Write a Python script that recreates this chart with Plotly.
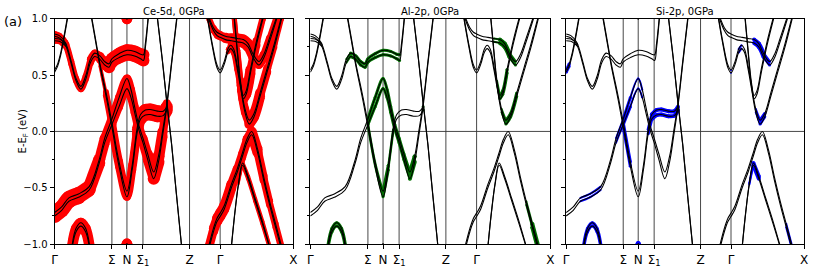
import plotly.graph_objects as go

W, H = 814, 268

# ---------------- axes / labels ----------------
kpath_pos = [0.0, 0.24, 0.303, 0.37, 0.565, 0.693, 1.0]
kpath_lbl = ["Γ", "Σ", "N", "Σ<sub>1</sub>", "Z", "Γ", "X"]
e_ticks = [-1.0, -0.5, 0.0, 0.5, 1.0]
e_tick_lbl = ["−1.0", "−0.5", "0.0", "0.5", "1.0"]
e_minor = [-0.75, -0.25, 0.25, 0.75]

panel_titles = ["Ce-5d, 0GPa", "Al-2p, 0GPa", "Si-2p, 0GPa"]
panel_keys = ["ce", "al", "si"]
panel_colors = ["#ff0000", "#006e00", "#0000ff"]

# ---------------- bands (k, E upper, E lower) ----------------
k_b1 = [0.0, 0.013, 0.026, 0.04, 0.055]
e_b1_a = [0.545, 0.60, 0.70, 0.85, 1.03]
e_b1_b = [0.525, 0.58, 0.68, 0.83, 1.01]

k_c = [0.0, 0.02, 0.045, 0.07, 0.09, 0.11, 0.13, 0.15, 0.168, 0.19, 0.21, 0.228, 0.24, 0.27, 0.303, 0.335, 0.36, 0.372, 0.38, 0.392]
e_c_a = [0.865, 0.85, 0.79, 0.62, 0.47, 0.40, 0.49, 0.64, 0.695, 0.67, 0.62, 0.60, 0.645, 0.69, 0.72, 0.71, 0.685, 0.68, 0.78, 1.02]
e_c_b = [0.845, 0.83, 0.77, 0.60, 0.45, 0.375, 0.46, 0.61, 0.665, 0.64, 0.59, 0.57, 0.615, 0.655, 0.68, 0.67, 0.645, 0.63, 0.74, 1.0]

k_b3 = [0.0, 0.02, 0.035, 0.05]
e_b3_a = [0.825, 0.82, 0.80, 0.77]
e_b3_b = [0.805, 0.80, 0.78, 0.75]

k_p = [0.0, 0.03, 0.06, 0.1, 0.145, 0.187, 0.21, 0.24, 0.27, 0.303, 0.32, 0.335, 0.352, 0.37, 0.39, 0.415, 0.435, 0.452, 0.47, 0.49, 0.512]
e_p_a = [-0.72, -0.67, -0.59, -0.555, -0.49, -0.25, -0.06, 0.11, 0.30, 0.47, 0.37, 0.22, 0.06, -0.06, -0.20, -0.36, -0.22, 0.0, 0.25, 0.62, 1.02]
e_p_b = [-0.75, -0.70, -0.62, -0.585, -0.52, -0.28, -0.10, 0.06, 0.22, 0.38, 0.30, 0.17, 0.02, -0.10, -0.25, -0.42, -0.27, -0.04, 0.22, 0.60, 1.0]

k_r = [0.155, 0.17, 0.19, 0.215, 0.24, 0.27, 0.303, 0.325, 0.345, 0.36, 0.38, 0.40, 0.43, 0.455, 0.47]
e_r_a = [1.02, 0.84, 0.60, 0.35, 0.08, -0.27, -0.53, -0.30, 0.02, 0.15, 0.19, 0.195, 0.18, 0.18, 0.22]
e_r_b = [1.0, 0.82, 0.58, 0.32, 0.04, -0.31, -0.58, -0.34, -0.02, 0.11, 0.145, 0.15, 0.135, 0.14, 0.19]

k_l1 = [0.43, 0.45, 0.468, 0.49, 0.51, 0.532]
e_l1_a = [1.02, 0.66, 0.30, -0.11, -0.55, -1.02]
e_l1_b = [1.01, 0.65, 0.29, -0.12, -0.56, -1.03]

k_b7 = [0.072, 0.09, 0.11, 0.13, 0.148]
e_b7_a = [-1.03, -0.86, -0.81, -0.86, -1.03]
e_b7_b = [-1.06, -0.89, -0.84, -0.89, -1.06]

k_nd = [0.296, 0.303, 0.31]
e_nt_a = [1.04, 0.995, 1.04]
e_nt_b = [1.05, 1.005, 1.05]
e_nb_a = [-1.04, -0.995, -1.04]
e_nb_b = [-1.05, -1.005, -1.05]

k_ua = [0.64, 0.66, 0.68, 0.693, 0.71, 0.725, 0.737, 0.75, 0.765, 0.78, 0.797, 0.815, 0.835, 0.86, 0.89, 0.92, 0.95]
e_ua_a = [1.02, 0.78, 0.59, 0.545, 0.62, 0.73, 0.765, 0.73, 0.58, 0.40, 0.20, 0.10, 0.16, 0.34, 0.56, 0.78, 1.02]
e_ua_b = [1.0, 0.76, 0.565, 0.52, 0.595, 0.70, 0.735, 0.70, 0.55, 0.37, 0.17, 0.065, 0.13, 0.31, 0.53, 0.75, 1.0]

k_ub = [0.752, 0.765, 0.778, 0.79, 0.802, 0.82, 0.845, 0.872]
e_ub_a = [1.02, 0.72, 0.45, 0.32, 0.36, 0.55, 0.80, 1.02]
e_ub_b = [1.0, 0.70, 0.42, 0.29, 0.33, 0.52, 0.77, 1.0]

k_uc = [0.645, 0.665, 0.68, 0.693, 0.715, 0.74, 0.765, 0.79, 0.81, 0.83, 0.855, 0.875, 0.9, 0.93]
e_uc_a = [1.02, 0.92, 0.88, 0.865, 0.845, 0.835, 0.825, 0.815, 0.78, 0.69, 0.62, 0.68, 0.83, 1.02]
e_uc_b = [1.0, 0.895, 0.85, 0.835, 0.815, 0.805, 0.795, 0.785, 0.75, 0.66, 0.59, 0.65, 0.80, 1.0]

k_v1 = [0.645, 0.665, 0.68, 0.693, 0.71, 0.74, 0.765, 0.785, 0.805, 0.825, 0.85, 0.875, 0.9, 0.925, 0.95]
e_v1_a = [-1.02, -0.86, -0.77, -0.725, -0.66, -0.47, -0.33, -0.20, -0.07, 0.0, -0.16, -0.40, -0.62, -0.82, -1.02]
e_v1_b = [-1.05, -0.89, -0.80, -0.755, -0.69, -0.50, -0.36, -0.23, -0.10, -0.03, -0.19, -0.43, -0.65, -0.85, -1.05]

k_v2 = [0.74, 0.755, 0.77, 0.787, 0.81, 0.84, 0.87, 0.9]
e_v2_a = [-1.02, -0.71, -0.46, -0.28, -0.40, -0.60, -0.80, -1.02]
e_v2_b = [-1.03, -0.72, -0.47, -0.30, -0.42, -0.62, -0.82, -1.03]

# ---------------- orbital weights (fat-band widths, per node) ----------------
wt_b1 = {"ce": [0, 0, 0, 0, 0], "al": [0, 0, 0, 0, 0], "si": [3, 2, 0, 0, 0]}
wt_c = {"ce": [6, 6, 6, 6, 6, 6, 6, 7, 7, 8, 10, 12, 12, 12, 12, 12, 12, 8, 0, 0],
        "al": [0, 0, 0, 0, 0, 0, 0, 2, 3, 3, 3, 3, 3, 3, 3, 3, 3, 3, 0, 0],
        "si": [0] * 20}
wt_b3 = {"ce": [6, 6, 6, 6], "al": [0, 0, 0, 0], "si": [0, 0, 0, 0]}
wt_p = {"ce": [14, 14, 14, 13, 12, 10, 9, 8, 8, 8, 8, 8, 8, 9, 10, 12, 10, 8, 5, 0, 0],
        "al": [0, 0, 0, 0, 0, 0, 0, 3, 3, 3, 3, 3, 3, 3, 3, 4, 3, 0, 0, 0, 0],
        "si": [0, 0, 2, 2, 2, 0, 2, 3, 2, 2, 2, 0, 0, 0, 0, 0, 0, 0, 0, 0, 0]}
wt_r = {"ce": [0, 0, 3, 6, 8, 8, 8, 8, 10, 12, 12, 12, 12, 12, 8],
        "al": [0, 0, 0, 0, 2, 2, 3, 2, 2, 0, 0, 0, 0, 0, 3],
        "si": [0, 0, 0, 0, 3, 2, 0, 0, 3, 4, 4, 4, 4, 4, 4]}
wt_l1 = {"ce": [0] * 6, "al": [0] * 6, "si": [0] * 6}
wt_b7 = {"ce": [10] * 5, "al": [3] * 5, "si": [3] * 5}
wt_nt = {"ce": [10, 10, 10], "al": [0, 0, 0], "si": [0, 0, 0]}
wt_nb = {"ce": [10, 10, 10], "al": [0, 0, 0], "si": [5, 5, 5]}
wt_ua = {"ce": [0, 0, 0, 0, 0, 4, 6, 6, 6, 8, 8, 10, 10, 8, 6, 5, 4],
         "al": [0, 0, 0, 0, 0, 0, 0, 0, 0, 0, 2, 3, 3, 2, 0, 0, 0],
         "si": [0, 0, 0, 2, 0, 2, 2, 0, 0, 0, 2, 3, 3, 0, 0, 0, 0]}
wt_ub = {"ce": [5, 6, 8, 10, 10, 8, 6, 5],
         "al": [0, 0, 2, 3, 3, 2, 0, 0],
         "si": [0] * 8}
wt_uc = {"ce": [5, 6, 6, 6, 7, 8, 10, 10, 9, 8, 8, 7, 6, 5],
         "al": [0, 0, 0, 0, 0, 0, 2, 4, 4, 3, 3, 0, 0, 0],
         "si": [0, 0, 0, 0, 0, 0, 0, 4, 4, 3, 2, 0, 0, 0]}
wt_v1 = {"ce": [8, 9, 10, 10, 10, 9, 8, 8, 9, 10, 8, 7, 6, 6, 6],
         "al": [0, 0, 0, 0, 0, 0, 0, 0, 0, 0, 0, 0, 2, 4, 4],
         "si": [0, 0, 0, 0, 0, 0, 0, 0, 0, 0, 0, 0, 0, 2, 3]}
wt_v2 = {"ce": [0, 0, 2, 4, 4, 4, 4, 4],
         "al": [0] * 8,
         "si": [0, 0, 2, 4, 2, 0, 0, 0]}

bands = [
    (k_b1, e_b1_a, e_b1_b, wt_b1),
    (k_c, e_c_a, e_c_b, wt_c),
    (k_b3, e_b3_a, e_b3_b, wt_b3),
    (k_p, e_p_a, e_p_b, wt_p),
    (k_r, e_r_a, e_r_b, wt_r),
    (k_l1, e_l1_a, e_l1_b, wt_l1),
    (k_b7, e_b7_a, e_b7_b, wt_b7),
    (k_nd, e_nt_a, e_nt_b, wt_nt),
    (k_nd, e_nb_a, e_nb_b, wt_nb),
    (k_ua, e_ua_a, e_ua_b, wt_ua),
    (k_ub, e_ub_a, e_ub_b, wt_ub),
    (k_uc, e_uc_a, e_uc_b, wt_uc),
    (k_v1, e_v1_a, e_v1_b, wt_v1),
    (k_v2, e_v2_a, e_v2_b, wt_v2),
]

# ---------------- layout geometry (pixels) ----------------
panel_px = [(52, 293), (310, 552), (568, 808)]
top_px, bot_px = 13.3, 248.3
FONT = "DejaVu Sans"


def runs(w):
    out = []
    n = len(w)
    i = 0
    while i < n:
        if w[i] > 0:
            j = i
            while j + 1 < n and w[j + 1] == w[i]:
                j += 1
            end = j + 1 if (j + 1 < n and w[j + 1] > 0) else j
            out.append((i, end, w[i]))
            i = j + 1
        else:
            i += 1
    return out


fig = go.Figure()
y_dom = [1 - bot_px / H, 1 - top_px / H]

for p in range(3):
    sfx = "" if p == 0 else str(p + 1)
    xa, ya = "x" + sfx, "y" + sfx
    key = panel_keys[p]
    col = panel_colors[p]
    # fat bands (orbital projection)
    for k, ea, eb, wt in bands:
        for e in (ea, eb):
            for i, j, w in runs(wt[key]):
                fig.add_trace(go.Scatter(x=k[i:j + 1], y=e[i:j + 1], mode="lines+markers", xaxis=xa, yaxis=ya,
                                         line=dict(color=col, width=w, shape="spline"),
                                         marker=dict(color=col, size=w, line=dict(width=0)),
                                         hoverinfo="skip"))
    # black band lines
    for k, ea, eb, wt in bands:
        for e in (ea, eb):
            fig.add_trace(go.Scatter(x=k, y=e, mode="lines", xaxis=xa, yaxis=ya,
                                     line=dict(color="black", width=1.1, shape="spline"), hoverinfo="skip"))

    x0, x1 = panel_px[p]
    fig.layout["xaxis" + sfx] = dict(
        domain=[x0 / W, x1 / W], range=[0, 1], anchor=ya,
        tickvals=kpath_pos, ticktext=kpath_lbl, ticks="outside", ticklen=4, tickcolor="black",
        showline=True, mirror=True, linecolor="black", linewidth=1,
        showgrid=False, zeroline=False, tickfont=dict(family=FONT, size=12, color="black"),
    )
    fig.layout["yaxis" + sfx] = dict(
        domain=y_dom, range=[-1, 1], anchor=xa,
        tickvals=e_ticks, ticktext=e_tick_lbl, showticklabels=(p == 0),
        ticks="outside", ticklen=4, tickcolor="black",
        minor=dict(tickvals=e_minor, ticks="outside", ticklen=2, tickcolor="black"),
        showline=True, mirror=True, linecolor="black", linewidth=1,
        showgrid=False, zeroline=False, tickfont=dict(family=FONT, size=10, color="black"),
    )
    # high-symmetry vertical lines and Fermi level
    for kv in kpath_pos[1:-1]:
        fig.add_shape(type="line", xref=xa, yref=ya + " domain", x0=kv, x1=kv, y0=0, y1=1,
                      line=dict(color="#333333", width=0.9), layer="below")
    fig.add_shape(type="line", xref=xa + " domain", yref=ya, x0=0, x1=1, y0=0, y1=0,
                  line=dict(color="#333333", width=0.9), layer="below")
    fig.add_annotation(x=(x0 + x1) / 2 / W, y=y_dom[1], xref="paper", yref="paper",
                       text=panel_titles[p], showarrow=False, xanchor="center", yanchor="bottom",
                       font=dict(family=FONT, size=10, color="black"))

fig.add_annotation(x=10 / W, y=1 - 16 / H, xref="paper", yref="paper", text="(a)", showarrow=False,
                   xanchor="center", yanchor="middle", font=dict(family=FONT, size=13, color="black"))
fig.add_annotation(x=21 / W, y=1 - 131 / H, xref="paper", yref="paper", text="E-E<sub>F</sub> (eV)",
                   textangle=-90, showarrow=False, xanchor="center", yanchor="middle",
                   font=dict(family=FONT, size=10, color="black"))

fig.update_layout(width=W, height=H, margin=dict(l=0, r=0, t=0, b=0),
                  plot_bgcolor="white", paper_bgcolor="white", showlegend=False, hovermode=False)

fig.write_html("out.html", config={"displayModeBar": False},
               post_script="document.body.style.margin='0px';document.body.style.overflow='hidden';")
